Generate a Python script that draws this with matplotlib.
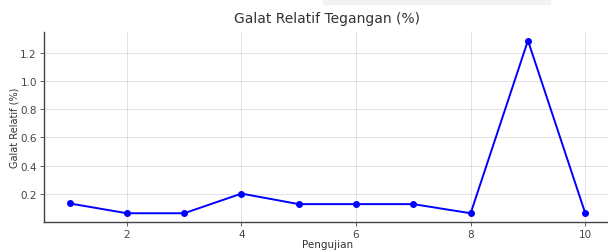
import matplotlib
matplotlib.use("Agg")
import matplotlib.pyplot as plt
from matplotlib.patches import Rectangle

# data
pengujian = [1, 2, 3, 4, 5, 6, 7, 8, 9, 10]
galat = [0.13, 0.06, 0.06, 0.20, 0.125, 0.125, 0.125, 0.06, 1.29, 0.06]
xticks = [2, 4, 6, 8, 10]
yticks = [0.2, 0.4, 0.6, 0.8, 1.0, 1.2]

fig = plt.figure(figsize=(6.08, 2.51), dpi=100)
ax = fig.add_axes([0.072, 0.112, 0.933, 0.757])

ax.plot(pengujian, galat, color='blue', marker='o', markersize=4, linewidth=1.4)

ax.set_xticks(xticks)
ax.set_yticks(yticks)
ax.grid(True, color='#dddddd', linewidth=0.6)
ax.set_axisbelow(True)

for s in ['top', 'right']:
    ax.spines[s].set_visible(False)
for s in ['left', 'bottom']:
    ax.spines[s].set_color('#444444')
    ax.spines[s].set_linewidth(1.0)

ax.tick_params(labelsize=7.5, colors='#444444', length=3, width=0.6, pad=2)
ax.set_title('Galat Relatif Tegangan (%)', fontsize=10, color='#333333', pad=7)
ax.set_xlabel('Pengujian', fontsize=7.5, color='#333333', labelpad=0)
ax.set_ylabel('Galat Relatif (%)', fontsize=7, color='#333333')
ax.yaxis.set_label_coords(-0.043, 0.5)

# faint band at the very top of the reference
fig.patches.append(Rectangle((323 / 608, 1 - 5 / 251), 227 / 608, 5 / 251,
                             transform=fig.transFigure, color='#f2f2f2', zorder=0))

fig.savefig('out.png', dpi=100)
